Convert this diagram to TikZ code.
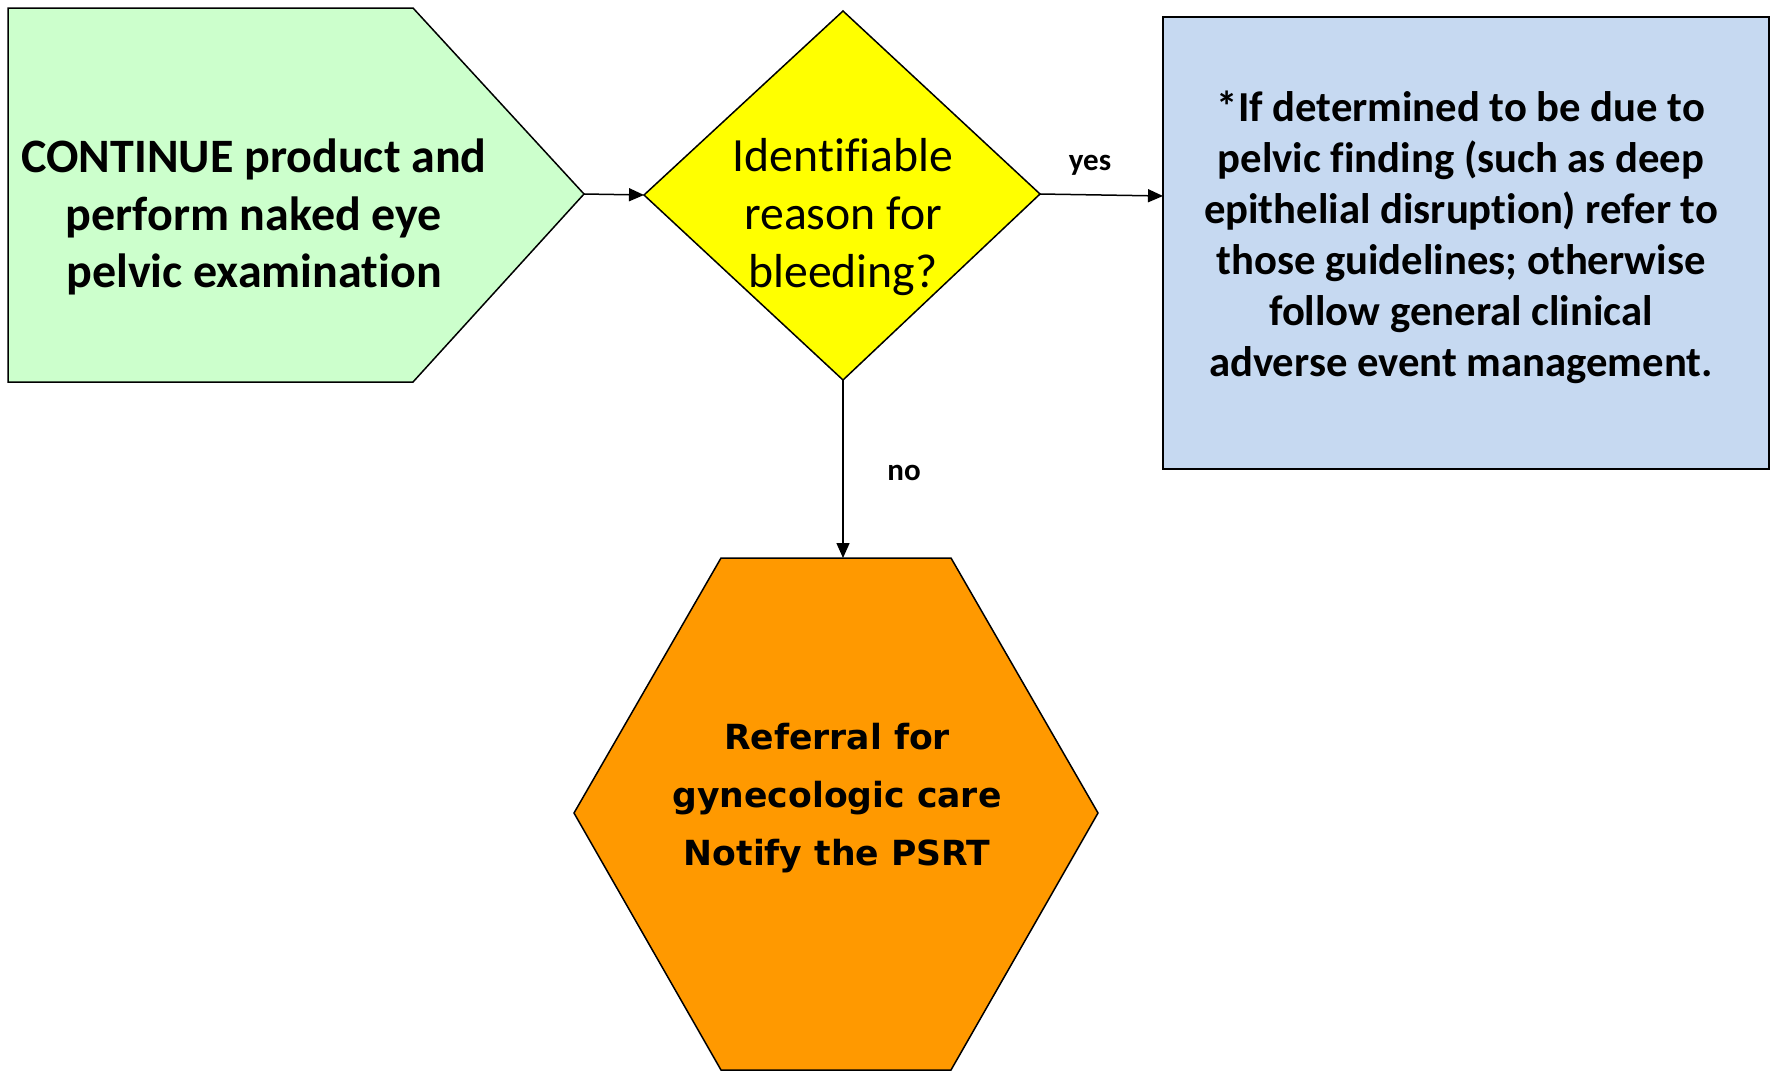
\documentclass[tikz,border=0pt]{standalone}
\usepackage{fontspec}
\setmainfont{Carlito}[Ligatures=NoCommon]
\newfontfamily\hexfont{DejaVu Sans}
\usetikzlibrary{arrows.meta}
\definecolor{greenfill}{HTML}{CCFFCC}
\definecolor{yellowfill}{HTML}{FFFF00}
\definecolor{bluefill}{HTML}{C6D9F1}
\definecolor{orangefill}{HTML}{FF9900}
\tikzset{
  shapeline/.style={draw=black, line width=1.5pt, line join=miter},
  flow/.style={draw=black, line width=1.5pt, -{Triangle[length=15pt,width=13pt]}},
  bigtext/.style={align=center, inner sep=0pt, font=\bfseries\fontsize{48}{57.6}\selectfont},
  plaintext/.style={align=center, inner sep=0pt, font=\fontsize{47.7}{57.6}\selectfont},
  boxtext/.style={align=center, inner sep=0pt, font=\bfseries\fontsize{42.7}{51}\selectfont},
  hextext/.style={align=center, inner sep=0pt, font=\hexfont\bfseries\fontsize{34.6}{57.6}\selectfont},
  edgelabel/.style={inner sep=0pt, font=\bfseries\fontsize{31}{36}\selectfont}
}
\begin{document}
\begin{tikzpicture}[x=1pt,y=-1pt]
\useasboundingbox (0,0) rectangle (1771,1071);

% start step: arrow-shaped pentagon
\draw[shapeline, fill=greenfill] (8,8) -- (413,8) -- (584,194) -- (413,382) -- (8,382) -- cycle;
\coordinate (starttip) at (584,194);
\node[bigtext] (start) at (254,217) {CONTINUE product and\\perform naked eye\\pelvic examination};

% decision diamond
\draw[shapeline, fill=yellowfill] (644,195) -- (843,11) -- (1040,194) -- (843,380) -- cycle;
\coordinate (dleft) at (644,195);
\coordinate (dright) at (1040,194);
\coordinate (dbottom) at (843,380);
\node[plaintext] (decision) at (843,217) {Identifiable\\reason for\\bleeding?};

% outcome box for "yes"
\draw[shapeline, fill=bluefill] (1163,17) rectangle (1769,469);
\coordinate (boxleft) at (1163,196);
\node[boxtext] (yesbox) at (1461,237) {*If determined to be due to\\pelvic finding (such as deep\\epithelial disruption) refer to\\those guidelines; otherwise\\follow general clinical\\adverse event management.};

% outcome hexagon for "no"
\draw[shapeline, fill=orangefill] (721,558) -- (951,558) -- (1098,813) -- (951,1070) -- (721,1070) -- (574,813) -- cycle;
\coordinate (hextop) at (843,558);
\node[hextext] (nobox) at (837,798) {Referral for\\gynecologic care\\Notify the PSRT};

% connectors
\draw[flow] (starttip) -- (dleft);
\draw[flow] (dright) -- (boxleft);
\draw[flow] (dbottom) -- (hextop);

\node[edgelabel] (yeslabel) at (1090,165) {yes};
\node[edgelabel] (nolabel) at (904,473) {no};
\end{tikzpicture}
\end{document}
